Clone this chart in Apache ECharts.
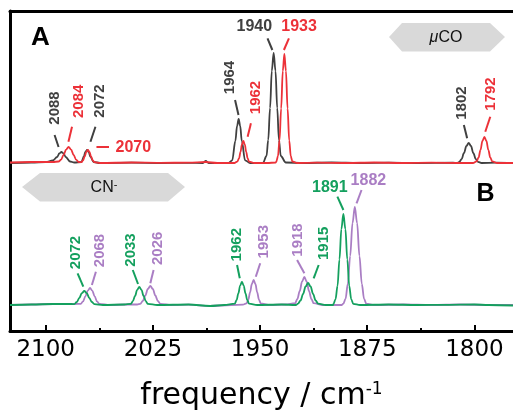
<!DOCTYPE html>
<html>
<head>
<meta charset="utf-8">
<title>IR spectra</title>
<script src="https://cdn.jsdelivr.net/npm/echarts@6/dist/echarts.min.js"></script>
<style>
  html, body { margin: 0; padding: 0; background: #fff; }
  #main { width: 513px; height: 413px; }
</style>
</head>
<body>
<div id="main"></div>
<script>
// axis ticks (cm-1)
const majorTicks = [2100, 2025, 1950, 1875, 1800];
const minorTicks = [2062.5, 1987.5, 1912.5, 1837.5];

// panel A: [frequency, absorbance (a.u.)]
const specA_gray = [
  [2125, 0], [2110, 0.5], [2100, 1], [2095, 2.5], [2092, 6], [2090.5, 9.5], [2089, 11], [2087.5, 9.5],
  [2086, 6], [2083, 1.5], [2080, 0.5], [2075, 1], [2073.3, 6.5], [2072.3, 11], [2071, 13], [2069.9, 11],
  [2068.8, 6.5], [2066.5, 1], [2062, 0], [2040, 0.3], [2020, 0], [2000, 0.2], [1990, 0], [1988, 2],
  [1986, 0], [1972, 0], [1969.5, 2.7], [1967.3, 22], [1966.1, 37], [1965, 44], [1963.9, 37], [1962.8, 22],
  [1960.5, 2.7], [1957, 0], [1948, 0], [1945.5, 7], [1944.3, 23], [1943, 55], [1941.8, 92], [1940.5, 110],
  [1939.2, 92], [1938, 55], [1936.8, 23], [1935.5, 7], [1932, 0.5], [1920, 0], [1900, 0.5], [1880, 0],
  [1860, 0.3], [1840, 0], [1815, 0.3], [1812, 0], [1810.5, 1.2], [1809, 3.8], [1807.3, 10], [1805.6, 17],
  [1804, 20], [1802.4, 17], [1800.8, 10], [1799, 3.8], [1797.5, 1.2], [1795, 0], [1785, 0.3], [1773, 0]
];
const specA_red = [
  [2125, 0.5], [2110, 1], [2100, 1], [2095, 1], [2091, 1.5], [2089.25, 3.4], [2087.5, 8], [2085.75, 13.4],
  [2084, 16], [2082.25, 13.4], [2080.5, 8], [2078.75, 3.4], [2077, 1], [2075, 0.8], [2073.9, 2.7],
  [2072.75, 6.5], [2071.6, 11], [2070.5, 13], [2069.4, 11], [2068.25, 6.5], [2067.1, 2.7], [2066, 0.8],
  [2062, 0], [2040, 0.5], [2020, 0.2], [2000, 0.3], [1988, 1], [1980, 0], [1968, 0], [1966, 1.4],
  [1964.7, 4.6], [1963.7, 11], [1962.7, 18.5], [1961.7, 22], [1960.7, 18.5], [1959.7, 11], [1958.7, 4.6],
  [1957.7, 1.4], [1954, 0], [1945, 0], [1939, 0.5], [1938.6, 1.5], [1937.5, 6.8], [1936.4, 22.5],
  [1935.25, 54.5], [1934.1, 92], [1933, 109], [1931.9, 92], [1930.75, 54.5], [1929.6, 22.5], [1928.5, 6.8],
  [1927.4, 1.5], [1924, 0], [1910, 0.3], [1890, 0], [1870, 0.5], [1850, 0], [1830, 0.3], [1810, 0],
  [1801, 0], [1798.5, 1.6], [1797.1, 5.5], [1795.75, 13], [1794.4, 22], [1793, 26], [1791.6, 22],
  [1790.25, 13], [1788.9, 5.5], [1787.5, 1.6], [1784, 0], [1773, 0]
];

// panel B
const specB_green = [
  [2125, 0], [2110, 0.5], [2095, 1], [2082, 1], [2080, 0.9], [2078.25, 3], [2076.5, 7], [2074.75, 11.8],
  [2073, 14], [2071.25, 11.8], [2069.5, 7], [2067.75, 3], [2066, 0.9], [2060, 0], [2045, 0.5],
  [2040.5, 1.1], [2039, 3.8], [2037.5, 9], [2036, 15.1], [2034.5, 18], [2033, 15.1], [2031.5, 9],
  [2030, 3.8], [2028.5, 1.1], [2022, 0], [2000, 0.5], [1985, -1], [1975, 0], [1967.7, 1.4],
  [1966.45, 4.8], [1965.2, 11.5], [1963.95, 19.3], [1962.7, 23], [1961.45, 19.3], [1960.2, 11.5],
  [1958.95, 4.8], [1957.7, 1.4], [1952, 0], [1935, 0.5], [1925, 0], [1923.4, 1.4], [1921.65, 4.6],
  [1919.9, 11], [1918.15, 18.5], [1916.4, 22], [1914.65, 18.5], [1912.9, 11], [1911.15, 4.6],
  [1909.4, 1.4], [1904, 0], [1899, 0], [1898.6, 1.2], [1897.2, 5.7], [1895.8, 19], [1894.45, 45.5],
  [1893.1, 76], [1891.7, 91], [1890.3, 76], [1888.95, 45.5], [1887.6, 19], [1886.2, 5.7], [1884.8, 1.2],
  [1880, 0], [1860, 0.5], [1840, 0], [1820, 0.2], [1800, 0.5], [1790, 0], [1773, -0.5]
];
const specB_purple = [
  [2125, 0], [2110, 0.5], [2095, 1], [2080, 1], [2075.5, 1.1], [2073.9, 3.7], [2072.25, 8.5],
  [2070.6, 14.3], [2069, 17], [2067.4, 14.3], [2065.75, 8.5], [2064.1, 3.7], [2062.5, 1.1], [2055, 0],
  [2042, 0.5], [2036, 0.5], [2033.8, 1.2], [2032.05, 4], [2030.3, 9.5], [2028.55, 16], [2026.8, 19],
  [2025.05, 16], [2023.3, 9.5], [2021.55, 4], [2019.8, 1.2], [2012, 0], [2000, 0.3], [1985, -1],
  [1970, 0], [1962, 0.3], [1959.5, 1.6], [1958.25, 5.2], [1957, 12.5], [1955.75, 21], [1954.5, 25],
  [1953.25, 21], [1952, 12.5], [1950.75, 5.2], [1949.5, 1.6], [1944, 0], [1932, 0.5], [1925.5, 1.8],
  [1923.9, 6], [1922.25, 14], [1920.6, 23.5], [1919, 28], [1917.4, 23.5], [1915.75, 14], [1914.1, 6],
  [1912.5, 1.8], [1906, 0], [1893, 0], [1891.7, 1.3], [1890.2, 6.1], [1888.6, 21], [1886.95, 49],
  [1885.3, 82], [1883.7, 98], [1882.1, 82], [1880.45, 49], [1878.8, 21], [1877.2, 6.1], [1875.7, 1.3],
  [1870, 0], [1850, 0.5], [1830, 0], [1810, 0.5], [1790, 0], [1773, 0]
];

// peak labels: [text, freq, value, rotate] and leader lines: [f1, v1, f2, v2]
const labA_gray = [['2088', 2093.8, 55, 90], ['2072', 2062.3, 62, 90], ['1964', 1970.8, 85.5, 90],
  ['1940', 1954, 136, 0], ['1802', 1808.6, 60, 90]];
const leadA_gray = [[2093.8, 28, 2091, 16], [2065.2, 36.3, 2068.7, 21.3], [1967.5, 63, 1965.1, 48],
  [1944.8, 124.7, 1941.4, 113], [1807.4, 38, 1805.1, 24.7]];
const labA_red = [['2084', 2076.8, 61.7, 90], ['2070', 2038.7, 15.5, 0], ['1962', 1953.2, 65.5, 90],
  ['1933', 1922.7, 136.3, 0], ['1792', 1788.4, 69, 90]];
const leadA_red = [[2081.6, 36.3, 2084.1, 21.3], [2064.5, 16.3, 2055.7, 16.3], [1956.4, 39.7, 1958.7, 26.3],
  [1929.8, 124.7, 1933.3, 113], [1788.9, 46.3, 1792.4, 31.3]];
const labB_green = [['2072', 2079.1, 52.5, 90], ['2033', 2040.5, 55, 90], ['1962', 1966.5, 60.3, 90],
  ['1915', 1905.3, 61.7, 90], ['1891', 1901.2, 117.8, 0]];
const leadB_green = [[2077.7, 31.7, 2073.7, 18.3], [2039.1, 35, 2035.4, 21], [1966.1, 40, 1964.2, 26.7],
  [1909, 40, 1912.5, 26.7], [1895.9, 108.3, 1891.7, 95]];
const labB_purple = [['2068', 2062.3, 54.5, 90], ['2026', 2021.4, 56.7, 90], ['1953', 1947.1, 63.3, 90],
  ['1918', 1923.7, 65, 90], ['1882', 1874.2, 124.5, 0]];
const leadB_purple = [[2064.9, 33.3, 2067.7, 20], [2024.5, 35, 2026.8, 21.7], [1949.9, 41.7, 1953, 28.3],
  [1924.1, 45, 1919, 31.7], [1879, 115, 1882.5, 101.7]];

const GRAY = '#404040', RED = '#ec3138', GREEN = '#14a05e', PURPLE = '#aa7ec4';
const LABEL_FONT = 'Liberation Sans';

function spectrum(data, color, panel, labels, leaders) {
  return {
    type: 'line',
    xAxisIndex: panel,
    yAxisIndex: panel,
    data: data,
    showSymbol: false,
    smooth: 0.35,
    smoothMonotone: 'x',
    lineStyle: { color: color, width: 1.8 },
    markPoint: {
      symbol: 'circle',
      symbolSize: 1,
      itemStyle: { color: 'rgba(0,0,0,0)' },
      silent: true,
      data: labels.map(l => ({
        name: l[0],
        coord: [l[1], l[2]],
        label: {
          show: true, position: 'inside', formatter: '{b}', rotate: l[3],
          color: color, fontFamily: LABEL_FONT, fontWeight: 'bold',
          fontSize: l[3] ? 15 : 16
        }
      }))
    },
    markLine: {
      symbol: ['none', 'none'],
      silent: true,
      label: { show: false },
      lineStyle: { color: color, width: 2, type: 'solid' },
      data: leaders.map(d => [{ coord: [d[0], d[1]] }, { coord: [d[2], d[3]] }])
    }
  };
}

const frameLine = { show: true, onZero: false, lineStyle: { color: '#000', width: 3 } };
const freqRange = { type: 'value', min: 1773, max: 2125, inverse: true, splitLine: { show: false } };

var myChart = echarts.init(document.getElementById('main'));
myChart.setOption({
  animation: false,
  grid: [
    { left: 10, width: 508, top: 11, height: 159 },
    { left: 10, width: 508, top: 170, height: 161 }
  ],
  xAxis: [
    Object.assign({}, freqRange, {
      gridIndex: 0, position: 'top', axisLine: frameLine,
      axisTick: { show: false }, axisLabel: { show: false }
    }),
    Object.assign({}, freqRange, {
      gridIndex: 1, position: 'bottom', axisLine: frameLine,
      axisTick: { inside: true, length: 6, customValues: majorTicks, lineStyle: { color: '#000', width: 2 } },
      axisLabel: { customValues: majorTicks, formatter: v => String(v),
        color: '#000', fontFamily: 'DejaVu Sans', fontSize: 23, margin: 8 },
      name: '{t|frequency / cm}{s|-1}',
      nameLocation: 'middle',
      nameGap: 50,
      nameTextStyle: {
        color: '#000',
        rich: {
          t: { fontFamily: 'DejaVu Sans', fontSize: 30, color: '#000' },
          s: { fontFamily: 'DejaVu Sans', fontSize: 17, color: '#000', verticalAlign: 'top' }
        }
      }
    }),
    Object.assign({}, freqRange, {
      gridIndex: 1, position: 'bottom', axisLine: { show: false, onZero: false },
      axisTick: { inside: true, length: 3, customValues: minorTicks, lineStyle: { color: '#000', width: 2 } },
      axisLabel: { show: false }
    })
  ],
  yAxis: [
    { gridIndex: 0, type: 'value', min: -7, max: 152, axisLine: frameLine,
      axisTick: { show: false }, axisLabel: { show: false }, splitLine: { show: false } },
    { gridIndex: 1, type: 'value', min: -26, max: 135, axisLine: frameLine,
      axisTick: { show: false }, axisLabel: { show: false }, splitLine: { show: false } }
  ],
  series: [
    spectrum(specA_gray, GRAY, 0, labA_gray, leadA_gray),
    spectrum(specA_red, RED, 0, labA_red, leadA_red),
    spectrum(specB_purple, PURPLE, 1, labB_purple, leadB_purple),
    spectrum(specB_green, GREEN, 1, labB_green, leadB_green)
  ],
  graphic: [
    // band arrows
    { type: 'polygon', z: 1, shape: { points: [[389, 37], [402, 23], [490, 23], [505, 37], [490, 51.5], [402, 51.5]] },
      style: { fill: '#d9d9d9' } },
    { type: 'text', z: 2, style: { x: 446, y: 37.5, text: '{i|\u03bc}{n|CO}', align: 'center', verticalAlign: 'middle',
      rich: { i: { fontFamily: LABEL_FONT, fontSize: 16, fontStyle: 'italic', fill: '#111' },
              n: { fontFamily: LABEL_FONT, fontSize: 16, fill: '#111' } } } },
    { type: 'polygon', z: 1, shape: { points: [[22, 187], [40, 173], [168, 173], [185, 187], [168, 201.5], [40, 201.5]] },
      style: { fill: '#d9d9d9' } },
    { type: 'text', z: 2, style: { x: 104, y: 187.5, text: '{n|CN}{s|-}', align: 'center', verticalAlign: 'middle',
      rich: { n: { fontFamily: LABEL_FONT, fontSize: 16, fill: '#111' },
              s: { fontFamily: LABEL_FONT, fontSize: 11, fill: '#111', verticalAlign: 'top' } } } },
    // panel letters
    { type: 'text', z: 2, style: { x: 40.5, y: 38, text: 'A', align: 'center', verticalAlign: 'middle',
      fontFamily: LABEL_FONT, fontWeight: 'bold', fontSize: 26, fill: '#000' } },
    { type: 'text', z: 2, style: { x: 485.5, y: 194.5, text: 'B', align: 'center', verticalAlign: 'middle',
      fontFamily: LABEL_FONT, fontWeight: 'bold', fontSize: 25, fill: '#000' } }
  ]
});
</script>
</body>
</html>
